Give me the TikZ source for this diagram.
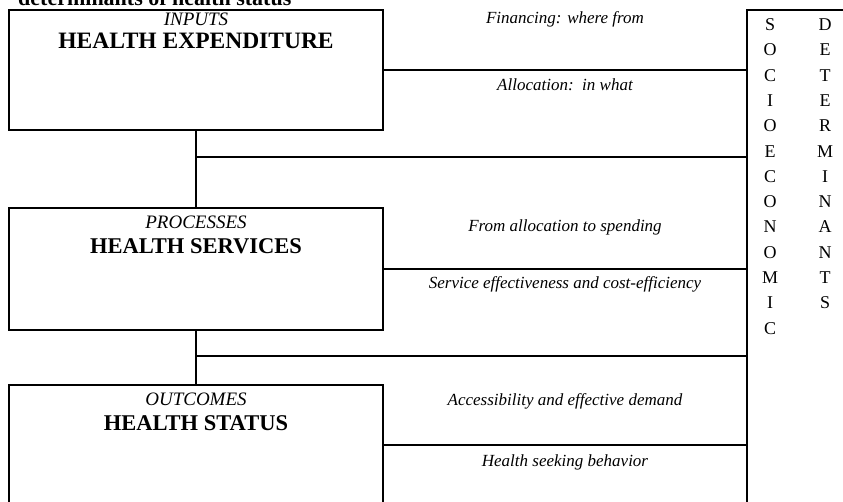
\documentclass[tikz,border=0pt]{standalone}
\usepackage{fontspec}
\setmainfont{Liberation Serif}
\usetikzlibrary{positioning}

\tikzset{
  stagebox/.style={draw, line width=1.6pt, outer sep=0pt, inner sep=0pt,
    minimum width=374pt, minimum height=120pt},
  link/.style={line width=1.6pt},
  stagename/.style={font=\fontsize{19}{22}\selectfont\itshape, anchor=base, inner sep=0pt},
  stagetitle/.style={font=\fontsize{22.5}{26}\selectfont\bfseries, anchor=base, inner sep=0pt},
  linklabel/.style={font=\fontsize{17}{20}\selectfont\itshape, anchor=base, inner sep=0pt},
  columnletter/.style={font=\fontsize{18}{20}\selectfont, anchor=base, inner sep=0pt},
}

\begin{document}
\begin{tikzpicture}[x=1pt, y=-1pt]
  \fill[white] (0,0) rectangle (843,501);
  \clip (0,0) rectangle (843,501);

  % heading, cut off at the top
  \node[font=\fontsize{22}{26}\selectfont\bfseries, anchor=base west, inner sep=0pt] (heading) at (18,5) {determinants of health status};

  % stages
  \node[stagebox] (inputs) at (196,70) {};
  \node[stagebox, minimum height=122pt] (services) at (196,269) {};
  \node[stagebox] (status) at (196,445) {};

  \node[stagename] (inputsname) at (196,25) {INPUTS};
  \node[stagetitle, font=\fontsize{23.5}{26}\selectfont\bfseries] (inputstitle) at (196,48) {HEALTH EXPENDITURE};
  \node[stagename] (servicesname) at (196,228) {PROCESSES};
  \node[stagetitle] (servicestitle) at (196,253) {HEALTH SERVICES};
  \node[stagename] (statusname) at (196,405) {OUTCOMES};
  \node[stagetitle] (statustitle) at (196,430) {HEALTH STATUS};

  % socio-economic determinants
  \node[draw, line width=1.6pt, outer sep=0pt, anchor=north west,
    minimum width=200pt, minimum height=600pt] (determ) at (747,10) {};
  \foreach \ch [count=\i from 0] in {S,O,C,I,O,E,C,O,N,O,M,I,C}
    \node[columnletter] (socio\i) at (770,{30.5+25.3*\i}) {\ch};
  \foreach \ch [count=\i from 0] in {D,E,T,E,R,M,I,N,A,N,T,S}
    \node[columnletter] (determ\i) at (825,{30.5+25.3*\i}) {\ch};

  % links
  \draw[link] (inputs.east) -- (inputs.east -| determ.west);
  \draw[link] (inputs.south) -- (services.north);
  \coordinate (tapone) at (196,157);
  \draw[link] (tapone) -- (tapone -| determ.west);
  \draw[link] (services.east) -- (services.east -| determ.west);
  \draw[link] (services.south) -- (status.north);
  \coordinate (taptwo) at (196,356);
  \draw[link] (taptwo) -- (taptwo -| determ.west);
  \draw[link] (status.east) -- (status.east -| determ.west);

  \node[linklabel] (financing) at (565,23) {Financing: where from};
  \node[linklabel] (allocation) at (565,90) {Allocation:\ \ in what};
  \node[linklabel] (spending) at (565,231) {From allocation to spending};
  \node[linklabel] (efficiency) at (565,288) {Service effectiveness and cost-efficiency};
  \node[linklabel] (demand) at (565,405) {Accessibility and effective demand};
  \node[linklabel] (seeking) at (565,466) {Health seeking behavior};
\end{tikzpicture}
\end{document}
